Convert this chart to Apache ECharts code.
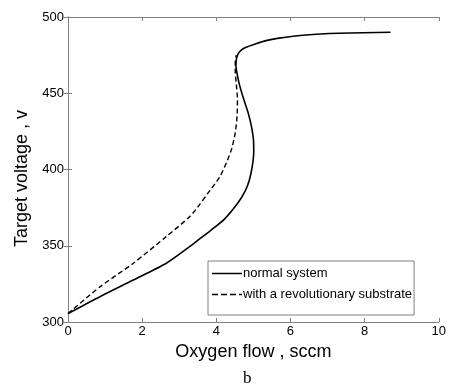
<!DOCTYPE html>
<html>
<head>
<meta charset="utf-8">
<script src="https://cdn.jsdelivr.net/npm/echarts@6/dist/echarts.min.js"></script>
<style>html,body{margin:0;padding:0;background:#fff}#c{width:449px;height:388px}</style>
</head>
<body>
<div id="c"></div>
<script>
const xTicks = [0, 2, 4, 6, 8, 10];
const yTicks = [300, 350, 400, 450, 500];
const normalSystem = [
  [0, 305.5], [0.86, 316.6], [1.76, 327.5], [2.65, 338.5], [3.28, 349.4], [3.55, 354.5],
  [3.82, 359.5], [4.22, 367.5], [4.58, 378], [4.78, 386], [4.89, 393], [4.97, 402],
  [5.01, 412], [5.0, 420], [4.95, 428], [4.86, 437], [4.74, 446], [4.62, 456],
  [4.56, 463], [4.53, 468], [4.54, 472], [4.59, 476], [4.68, 478.5], [4.8, 480.2],
  [5.07, 482.5], [5.34, 484.5], [5.65, 486], [6.42, 488.2], [7.31, 489.3], [8.7, 490]
];
const revolutionarySubstrate = [
  [0, 305.5], [0.86, 323], [1.76, 338.5], [2.65, 356], [3.28, 369], [3.55, 377],
  [3.77, 384.4], [4.09, 395], [4.3, 406], [4.42, 414], [4.51, 424], [4.56, 435],
  [4.57, 446], [4.54, 456], [4.51, 465], [4.51, 471], [4.54, 475]
];
const seriesNames = ['normal system', 'with a revolutionary substrate'];

const axisGrey = '#808080';
const sans = 'Liberation Sans, Arial, sans-serif';
const chart = echarts.init(document.getElementById('c'), null, {renderer: 'canvas'});
const tickFont = {color: '#000', fontFamily: sans, fontSize: 13};
function xAxisDef(pos, show) {
  return {
    type: 'value', position: pos, min: xTicks[0], max: xTicks[xTicks.length - 1], interval: xTicks[1] - xTicks[0],
    name: show ? 'Oxygen flow , sccm' : '', nameLocation: 'middle', nameGap: 19,
    nameTextStyle: {color: '#000', fontFamily: sans, fontSize: 18},
    axisLine: {show: true, lineStyle: {color: axisGrey, width: 1}},
    axisTick: {show: true, inside: true, length: 4, lineStyle: {color: axisGrey}},
    axisLabel: Object.assign({show: show, margin: 3}, tickFont),
    splitLine: {show: false}
  };
}
function yAxisDef(pos, show) {
  return {
    type: 'value', position: pos, min: yTicks[0], max: yTicks[yTicks.length - 1], interval: yTicks[1] - yTicks[0],
    name: show ? 'Target voltage , v' : '', nameLocation: 'middle', nameGap: 30,
    nameTextStyle: {color: '#000', fontFamily: sans, fontSize: 18, padding: [0, 18, 0, 0]},
    axisLine: {show: true, lineStyle: {color: axisGrey, width: 1}},
    axisTick: {show: true, inside: true, length: 4, lineStyle: {color: axisGrey}},
    axisLabel: Object.assign({show: show, margin: 4}, tickFont),
    splitLine: {show: false}
  };
}
chart.setOption({
  animation: false,
  backgroundColor: '#fff',
  grid: {left: 68, right: 9, top: 17, bottom: 66},
  xAxis: [xAxisDef('bottom', true), xAxisDef('top', false)],
  yAxis: [yAxisDef('left', true), yAxisDef('right', false)],
  legend: {
    show: true, orient: 'vertical', left: 208, top: 261,
    padding: [6, 2, 14, 4], itemGap: 8, itemWidth: 30, itemHeight: 12,
    borderColor: axisGrey, borderWidth: 1, backgroundColor: '#fff',
    textStyle: {color: '#000', fontFamily: sans, fontSize: 13, padding: [0, 0, 0, -4]},
    data: [
      {name: seriesNames[0], icon: 'path://M0,0 L30,0 L30,1.5 L0,1.5 Z'},
      {name: seriesNames[1], icon: 'path://M0,0 L6,0 L6,1.5 L0,1.5 Z M9,0 L15,0 L15,1.5 L9,1.5 Z M18,0 L24,0 L24,1.5 L18,1.5 Z M27,0 L30,0 L30,1.5 L27,1.5 Z'}
    ]
  },
  graphic: [{
    type: 'text', left: 243, top: 370,
    style: {text: 'b', fill: '#000', font: '17px "Liberation Serif", "Times New Roman", serif'}
  }],
  series: [
    {
      name: seriesNames[1], type: 'line', data: revolutionarySubstrate, showSymbol: false, smooth: 0.25,
      lineStyle: {color: '#000', width: 1.4, type: [5, 3]}, itemStyle: {color: '#000'}, z: 2
    },
    {
      name: seriesNames[0], type: 'line', data: normalSystem, showSymbol: false, smooth: 0.25,
      lineStyle: {color: '#000', width: 1.6, type: 'solid'}, itemStyle: {color: '#000'}, z: 3
    }
  ]
});
</script>
</body>
</html>
